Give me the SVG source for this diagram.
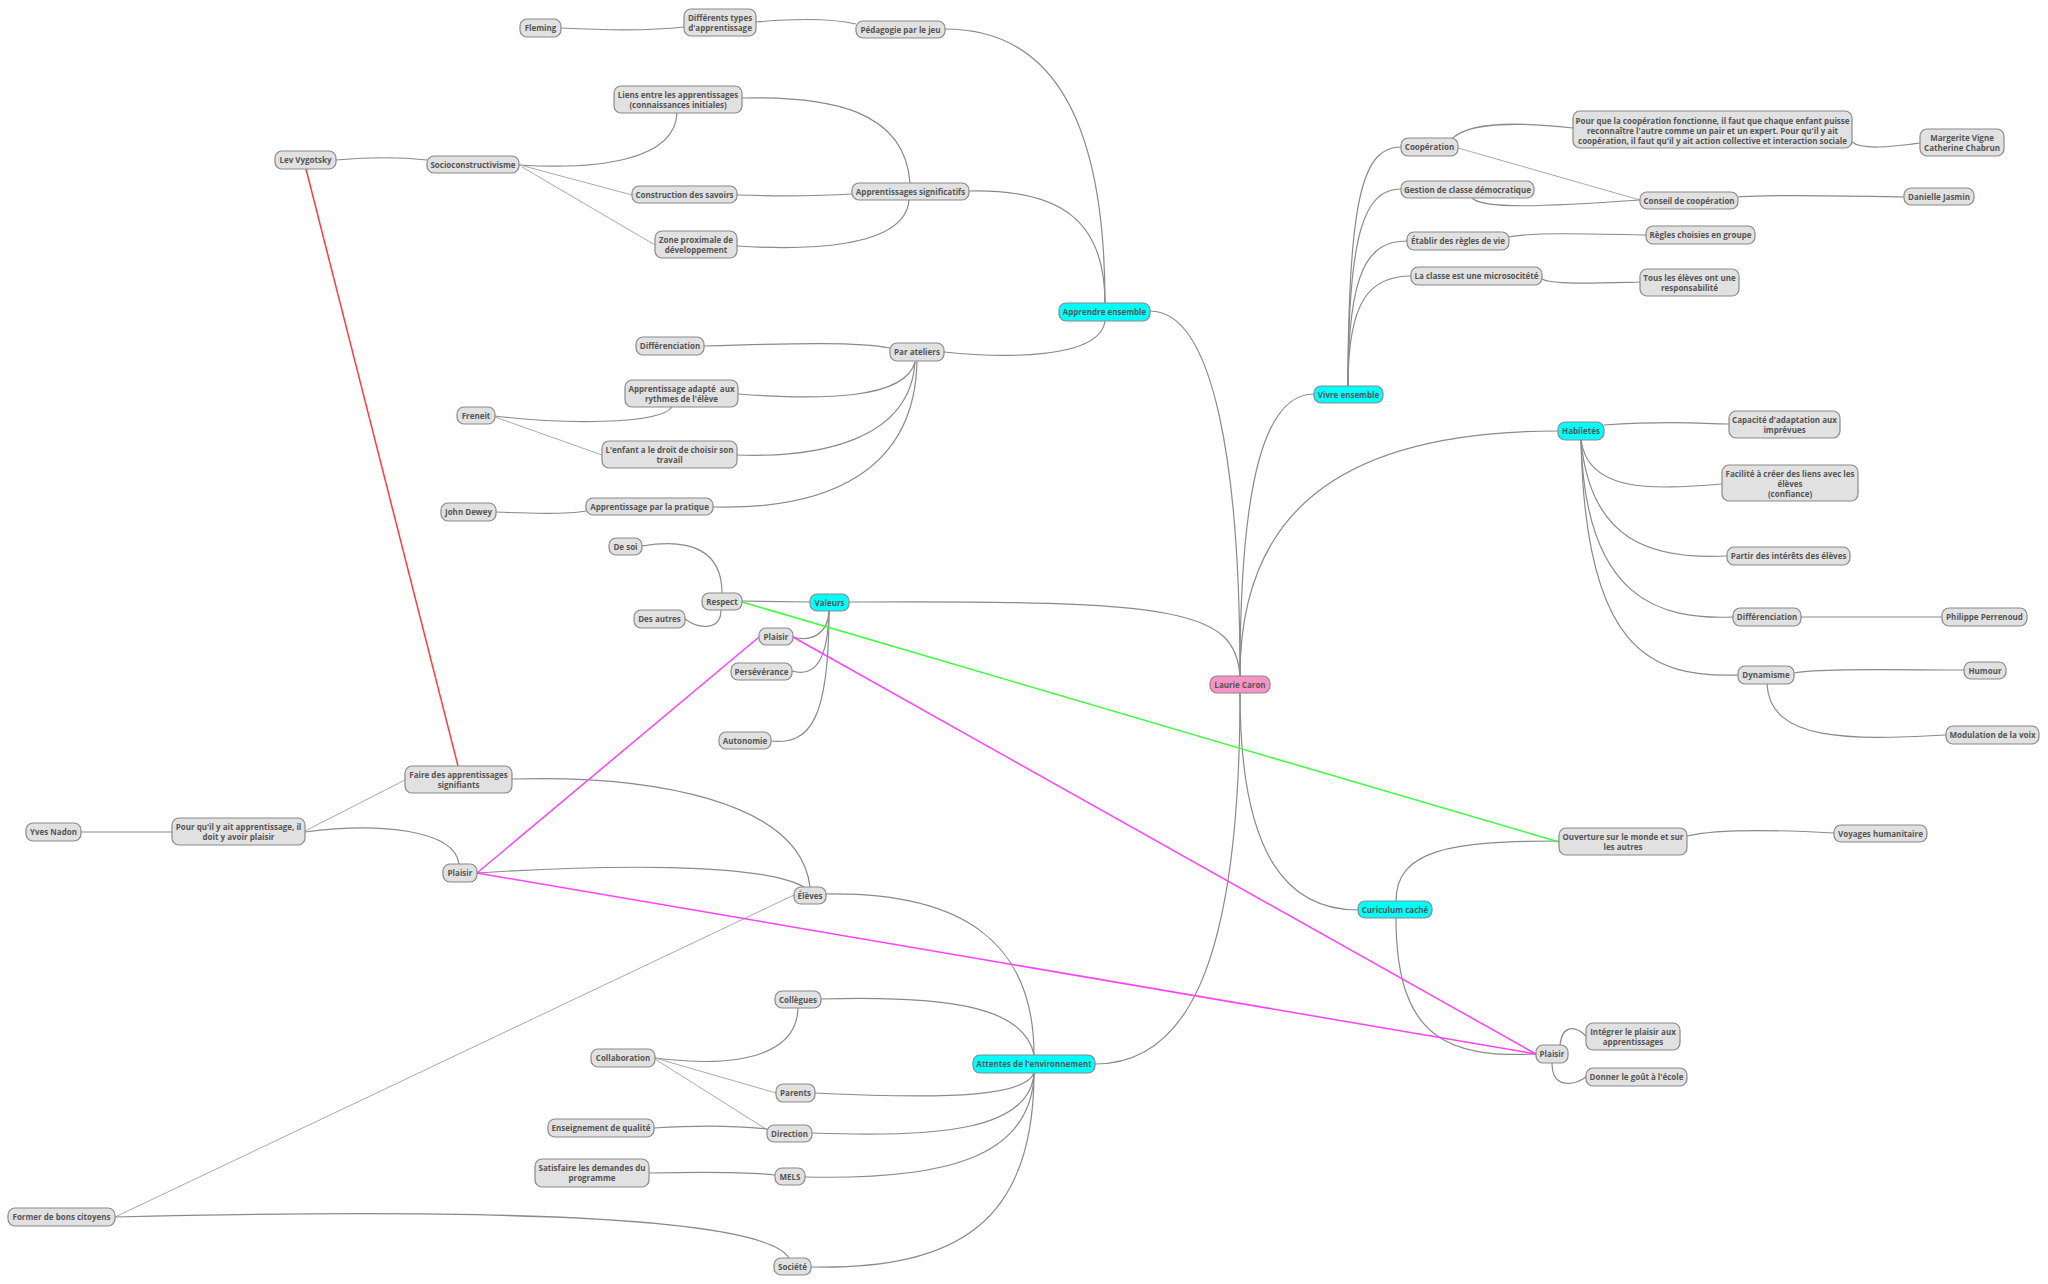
<svg xmlns="http://www.w3.org/2000/svg" width="2048" height="1284" viewBox="0 0 2048 1284">
<style>
g rect{stroke:#8a8a8a;stroke-width:1.2}
.n rect{fill:#e1e1e1}
.c rect{fill:#00ffff}
.p rect{fill:#f993c6}
text{font-family:"Open Sans","Noto Sans","DejaVu Sans",sans-serif;font-weight:700;font-size:8px;fill:#555;text-anchor:middle}
#edges path{fill:none}
.e{stroke:#8a8a8a;stroke-width:1.2}
.l{stroke:#aaaaaa;stroke-width:1}
.red{stroke:#ff3b3b;stroke-width:1.5}
.grn{stroke:#3cff3c;stroke-width:1.5}
.mag{stroke:#ff40ff;stroke-width:1.5}
</style>
<rect x="0" y="0" width="2048" height="1284" fill="#ffffff"/>
<g id="edges">
<path class="e" d="M1240,676 C1240,470 1215,311 1150,311"/>
<path class="e" d="M1240,676 C1240,480 1265,394 1314,394"/>
<path class="e" d="M1240,676 C1240,520 1330,431 1558,431"/>
<path class="e" d="M1240,676 C1235,610 1180,600 849,602"/>
<path class="e" d="M1240,693 C1240,860 1290,910 1358,910"/>
<path class="e" d="M1240,693 C1240,980 1180,1064 1095,1064"/>
<path class="e" d="M1348,386 C1348,190 1365,147 1401,147"/>
<path class="e" d="M1348,386 C1348,230 1365,189 1401,189"/>
<path class="e" d="M1348,386 C1348,270 1368,241 1407,241"/>
<path class="e" d="M1348,386 C1348,300 1370,276 1411,276"/>
<path class="e" d="M1452,139 C1468,122 1520,122 1573,128"/>
<path class="l" d="M1458,148 L1640,200"/>
<path class="e" d="M1472,198 C1482,209 1540,207 1640,200"/>
<path class="e" d="M1852,142 C1862,150 1890,147 1920,143"/>
<path class="e" d="M1738,197 C1770,194 1850,196 1904,197"/>
<path class="e" d="M1509,237 C1530,232 1600,234 1646,235"/>
<path class="e" d="M1542,279 C1552,285 1600,283 1640,282"/>
<path class="e" d="M1604,425 C1680,420 1700,424 1729,424"/>
<path class="e" d="M1581,440 C1588,492 1650,490 1722,484"/>
<path class="e" d="M1581,440 C1590,540 1650,560 1727,556"/>
<path class="e" d="M1581,440 C1585,600 1660,620 1733,617"/>
<path class="e" d="M1581,440 C1585,650 1650,678 1738,675"/>
<path class="e" d="M1801,617 L1942,617"/>
<path class="e" d="M1794,673 C1820,668 1900,670 1964,670"/>
<path class="e" d="M1767,684 C1770,742 1850,740 1946,735"/>
<path class="e" d="M1396,901 C1396,850 1450,841 1559,841"/>
<path class="e" d="M1396,918 C1396,1040 1450,1058 1536,1054"/>
<path class="e" d="M1560,1045 C1562,1025 1575,1025 1586,1036"/>
<path class="e" d="M1552,1063 C1552,1090 1575,1085 1586,1077"/>
<path class="e" d="M1687,836 C1720,828 1780,830 1834,833"/>
<path class="e" d="M1105,303 C1105,100 1040,29 945,29"/>
<path class="e" d="M1105,303 C1105,220 1060,189 969,191"/>
<path class="e" d="M1105,321 C1100,360 1000,358 944,352"/>
<path class="e" d="M856,24 C830,18 790,19 756,22"/>
<path class="e" d="M684,27 C650,31 600,30 561,28"/>
<path class="e" d="M910,183 C905,110 830,96 742,98"/>
<path class="e" d="M852,194 C820,196 770,196 737,195"/>
<path class="e" d="M909,200 C905,250 800,250 737,246"/>
<path class="e" d="M427,160 C400,157 370,157 336,160"/>
<path class="e" d="M519,165 C600,170 675,160 677,113"/>
<path class="l" d="M520,165 L632,195"/>
<path class="l" d="M522,167 L655,245"/>
<path class="e" d="M890,348 C860,342 800,343 704,346"/>
<path class="e" d="M915,362 C905,400 820,400 738,394"/>
<path class="e" d="M915,362 C910,440 820,458 737,455"/>
<path class="e" d="M917,361 C915,470 830,510 713,507"/>
<path class="e" d="M495,416 C560,424 660,425 672,407"/>
<path class="l" d="M495,417 L602,455"/>
<path class="e" d="M496,512 C540,514 570,514 586,511"/>
<path class="e" d="M810,602 L742,601"/>
<path class="e" d="M829,611 C828,635 810,642 793,637"/>
<path class="e" d="M829,611 C828,660 815,678 792,671"/>
<path class="e" d="M829,611 C829,720 810,745 771,741"/>
<path class="e" d="M722,593 C722,550 690,538 642,546"/>
<path class="e" d="M721,610 C721,630 700,630 685,619"/>
<path class="e" d="M1034,1055 C1034,940 960,892 826,894"/>
<path class="e" d="M1034,1055 C1025,1010 960,995 821,999"/>
<path class="e" d="M1034,1073 C1025,1095 960,1100 815,1093"/>
<path class="e" d="M1034,1073 C1030,1130 940,1138 812,1133"/>
<path class="e" d="M1034,1073 C1032,1160 940,1180 805,1177"/>
<path class="e" d="M1034,1073 C1034,1220 960,1270 811,1267"/>
<path class="e" d="M512,779 C650,775 800,800 810,887"/>
<path class="e" d="M477,873 C600,865 760,862 804,887"/>
<path class="e" d="M305,832 C380,822 455,830 459,864"/>
<path class="l" d="M305,831 L405,780"/>
<path class="e" d="M81,832 L172,832"/>
<path class="l" d="M115,1217 L794,895"/>
<path class="e" d="M115,1217 C400,1210 760,1210 789,1258"/>
<path class="e" d="M655,1058 C750,1070 797,1050 798,1008"/>
<path class="l" d="M655,1058 L776,1093"/>
<path class="l" d="M655,1059 L769,1131"/>
<path class="e" d="M654,1128 C700,1125 740,1126 767,1129"/>
<path class="e" d="M649,1173 C700,1172 750,1172 775,1175"/>
<path class="red" d="M306,169 L458,766"/>
<path class="grn" d="M742,602 L1559,842"/>
<path class="mag" d="M477,873 L759,637"/>
<path class="mag" d="M477,873 L1536,1054"/>
<path class="mag" d="M793,637 L1536,1054"/>
</g>
<g id="laurie" class="p"><rect x="1210" y="676" width="60" height="17" rx="7"/><text x="1240" y="687.5">Laurie Caron</text></g>
<g id="apprendre" class="c"><rect x="1059" y="303" width="91" height="18" rx="7"/><text x="1104.5" y="315">Apprendre ensemble</text></g>
<g id="vivre" class="c"><rect x="1314" y="386" width="69" height="17" rx="7"/><text x="1348.5" y="397.5">Vivre ensemble</text></g>
<g id="habiletes" class="c"><rect x="1558" y="422" width="46" height="18" rx="7"/><text x="1581" y="434">Habiletés</text></g>
<g id="valeurs" class="c"><rect x="810" y="594" width="39" height="17" rx="7"/><text x="829.5" y="605.5">Valeurs</text></g>
<g id="curiculum" class="c"><rect x="1358" y="901" width="74" height="17" rx="7"/><text x="1395" y="912.5">Curiculum caché</text></g>
<g id="attentes" class="c"><rect x="973" y="1055" width="122" height="18" rx="7"/><text x="1034" y="1067">Attentes de l'environnement</text></g>
<g id="pedagogie" class="n"><rect x="856" y="21" width="89" height="17" rx="7"/><text x="900.5" y="32.5">Pédagogie par le jeu</text></g>
<g id="differents" class="n"><rect x="684" y="9" width="72" height="27" rx="7"/><text x="720" y="20.5">Différents types</text><text x="720" y="30.5">d'apprentissage</text></g>
<g id="fleming" class="n"><rect x="520" y="19" width="41" height="18" rx="7"/><text x="540.5" y="31">Fleming</text></g>
<g id="appsig" class="n"><rect x="852" y="183" width="117" height="17" rx="7"/><text x="910.5" y="194.5">Apprentissages significatifs</text></g>
<g id="liens" class="n"><rect x="614" y="86" width="128" height="27" rx="7"/><text x="678" y="97.5">Liens entre les apprentissages</text><text x="678" y="107.5">(connaissances initiales)</text></g>
<g id="construction" class="n"><rect x="632" y="186" width="105" height="17" rx="7"/><text x="684.5" y="197.5">Construction des savoirs</text></g>
<g id="zone" class="n"><rect x="655" y="231" width="82" height="27" rx="7"/><text x="696" y="242.5">Zone proximale de</text><text x="696" y="252.5">développement</text></g>
<g id="socio" class="n"><rect x="427" y="156" width="92" height="17" rx="7"/><text x="473" y="167.5">Socioconstructivisme</text></g>
<g id="lev" class="n"><rect x="275" y="151" width="61" height="18" rx="7"/><text x="305.5" y="163">Lev Vygotsky</text></g>
<g id="parateliers" class="n"><rect x="890" y="343" width="54" height="18" rx="7"/><text x="917" y="355">Par ateliers</text></g>
<g id="diff1" class="n"><rect x="636" y="337" width="68" height="18" rx="7"/><text x="670" y="349">Différenciation</text></g>
<g id="adapte" class="n"><rect x="625" y="380" width="113" height="27" rx="7"/><text x="681.5" y="391.5" xml:space="preserve">Apprentissage adapté  aux</text><text x="681.5" y="401.5">rythmes de l'élève</text></g>
<g id="enfant" class="n"><rect x="602" y="441" width="135" height="27" rx="7"/><text x="669.5" y="452.5">L'enfant a le droit de choisir son</text><text x="669.5" y="462.5">travail</text></g>
<g id="pratique" class="n"><rect x="586" y="498" width="127" height="17" rx="7"/><text x="649.5" y="509.5">Apprentissage par la pratique</text></g>
<g id="freneit" class="n"><rect x="457" y="407" width="38" height="17" rx="7"/><text x="476" y="418.5">Freneit</text></g>
<g id="dewey" class="n"><rect x="441" y="503" width="55" height="18" rx="7"/><text x="468.5" y="515">John Dewey</text></g>
<g id="desoi" class="n"><rect x="609" y="538" width="33" height="17" rx="7"/><text x="625.5" y="549.5">De soi</text></g>
<g id="respect" class="n"><rect x="702" y="593" width="40" height="17" rx="7"/><text x="722" y="604.5">Respect</text></g>
<g id="desautres" class="n"><rect x="634" y="610" width="51" height="18" rx="7"/><text x="659.5" y="622">Des autres</text></g>
<g id="plaisirV" class="n"><rect x="759" y="628" width="34" height="17" rx="7"/><text x="776" y="639.5">Plaisir</text></g>
<g id="perseverance" class="n"><rect x="731" y="663" width="61" height="17" rx="7"/><text x="761.5" y="674.5">Persévérance</text></g>
<g id="autonomie" class="n"><rect x="719" y="732" width="52" height="17" rx="7"/><text x="745" y="743.5">Autonomie</text></g>
<g id="faire" class="n"><rect x="405" y="766" width="107" height="27" rx="7"/><text x="458.5" y="777.5">Faire des apprentissages</text><text x="458.5" y="787.5">signifiants</text></g>
<g id="pourquil" class="n"><rect x="172" y="818" width="133" height="27" rx="7"/><text x="238.5" y="829.5">Pour qu'il y ait apprentissage, il</text><text x="238.5" y="839.5">doit y avoir plaisir</text></g>
<g id="yves" class="n"><rect x="26" y="823" width="55" height="18" rx="7"/><text x="53.5" y="835">Yves Nadon</text></g>
<g id="plaisirL" class="n"><rect x="443" y="864" width="34" height="18" rx="7"/><text x="460" y="876">Plaisir</text></g>
<g id="former" class="n"><rect x="8" y="1208" width="107" height="18" rx="7"/><text x="61.5" y="1220">Former de bons citoyens</text></g>
<g id="eleves" class="n"><rect x="794" y="887" width="32" height="17" rx="7"/><text x="810" y="898.5">Élèves</text></g>
<g id="collegues" class="n"><rect x="775" y="991" width="46" height="17" rx="7"/><text x="798" y="1002.5">Collègues</text></g>
<g id="collaboration" class="n"><rect x="591" y="1049" width="64" height="18" rx="7"/><text x="623" y="1061">Collaboration</text></g>
<g id="parents" class="n"><rect x="776" y="1084" width="39" height="18" rx="7"/><text x="795.5" y="1096">Parents</text></g>
<g id="enseignement" class="n"><rect x="548" y="1119" width="106" height="18" rx="7"/><text x="601" y="1131">Enseignement de qualité</text></g>
<g id="direction" class="n"><rect x="767" y="1125" width="45" height="17" rx="7"/><text x="789.5" y="1136.5">Direction</text></g>
<g id="satisfaire" class="n"><rect x="535" y="1159" width="114" height="28" rx="7"/><text x="592" y="1171">Satisfaire les demandes du</text><text x="592" y="1181">programme</text></g>
<g id="mels" class="n"><rect x="775" y="1168" width="30" height="17" rx="7"/><text x="790" y="1179.5">MELS</text></g>
<g id="societe" class="n"><rect x="774" y="1258" width="37" height="17" rx="7"/><text x="792.5" y="1269.5">Société</text></g>
<g id="cooperation" class="n"><rect x="1401" y="138" width="57" height="18" rx="7"/><text x="1429.5" y="150">Coopération</text></g>
<g id="gestion" class="n"><rect x="1401" y="181" width="133" height="17" rx="7"/><text x="1467.5" y="192.5">Gestion de classe démocratique</text></g>
<g id="etablir" class="n"><rect x="1407" y="232" width="102" height="18" rx="7"/><text x="1458" y="244">Établir des règles de vie</text></g>
<g id="classe" class="n"><rect x="1411" y="267" width="131" height="18" rx="7"/><text x="1476.5" y="279">La classe est une microsocitété</text></g>
<g id="pourque" class="n"><rect x="1573" y="111" width="279" height="37" rx="7"/><text x="1712.5" y="123.5">Pour que la coopération fonctionne, il faut que chaque enfant puisse</text><text x="1712.5" y="133.5">reconnaître l'autre comme un pair et un expert. Pour qu'il y ait</text><text x="1712.5" y="143.5">coopération, il faut qu'il y ait action collective et interaction sociale</text></g>
<g id="margerite" class="n"><rect x="1920" y="129" width="84" height="27" rx="7"/><text x="1962" y="140.5">Margerite Vigne</text><text x="1962" y="150.5">Catherine Chabrun</text></g>
<g id="conseil" class="n"><rect x="1640" y="192" width="98" height="17" rx="7"/><text x="1689" y="203.5">Conseil de coopération</text></g>
<g id="danielle" class="n"><rect x="1904" y="188" width="70" height="17" rx="7"/><text x="1939" y="199.5">Danielle Jasmin</text></g>
<g id="regles" class="n"><rect x="1646" y="226" width="109" height="18" rx="7"/><text x="1700.5" y="238">Règles choisies en groupe</text></g>
<g id="tous" class="n"><rect x="1640" y="269" width="99" height="27" rx="7"/><text x="1689.5" y="280.5">Tous les élèves ont une</text><text x="1689.5" y="290.5">responsabilité</text></g>
<g id="capacite" class="n"><rect x="1729" y="411" width="111" height="27" rx="7"/><text x="1784.5" y="422.5">Capacité d'adaptation aux</text><text x="1784.5" y="432.5">imprévues</text></g>
<g id="facilite" class="n"><rect x="1722" y="465" width="136" height="36" rx="7"/><text x="1790" y="477">Facilité à créer des liens avec les</text><text x="1790" y="487">élèves</text><text x="1790" y="497">(confiance)</text></g>
<g id="partir" class="n"><rect x="1727" y="547" width="123" height="18" rx="7"/><text x="1788.5" y="559">Partir des intérêts des élèves</text></g>
<g id="diff2" class="n"><rect x="1733" y="608" width="68" height="18" rx="7"/><text x="1767" y="620">Différenciation</text></g>
<g id="philippe" class="n"><rect x="1942" y="608" width="85" height="18" rx="7"/><text x="1984.5" y="620">Philippe Perrenoud</text></g>
<g id="dynamisme" class="n"><rect x="1738" y="666" width="56" height="18" rx="7"/><text x="1766" y="678">Dynamisme</text></g>
<g id="humour" class="n"><rect x="1964" y="662" width="42" height="17" rx="7"/><text x="1985" y="673.5">Humour</text></g>
<g id="modulation" class="n"><rect x="1946" y="726" width="93" height="18" rx="7"/><text x="1992.5" y="738">Modulation de la voix</text></g>
<g id="ouverture" class="n"><rect x="1559" y="828" width="128" height="27" rx="7"/><text x="1623" y="839.5">Ouverture sur le monde et sur</text><text x="1623" y="849.5">les autres</text></g>
<g id="voyages" class="n"><rect x="1834" y="825" width="93" height="17" rx="7"/><text x="1880.5" y="836.5">Voyages humanitaire</text></g>
<g id="plaisirR" class="n"><rect x="1536" y="1045" width="32" height="18" rx="7"/><text x="1552" y="1057">Plaisir</text></g>
<g id="integrer" class="n"><rect x="1586" y="1023" width="94" height="27" rx="7"/><text x="1633" y="1034.5">Intégrer le plaisir aux</text><text x="1633" y="1044.5">apprentissages</text></g>
<g id="donner" class="n"><rect x="1586" y="1068" width="101" height="18" rx="7"/><text x="1636.5" y="1080">Donner le goût à l'école</text></g>
</svg>
